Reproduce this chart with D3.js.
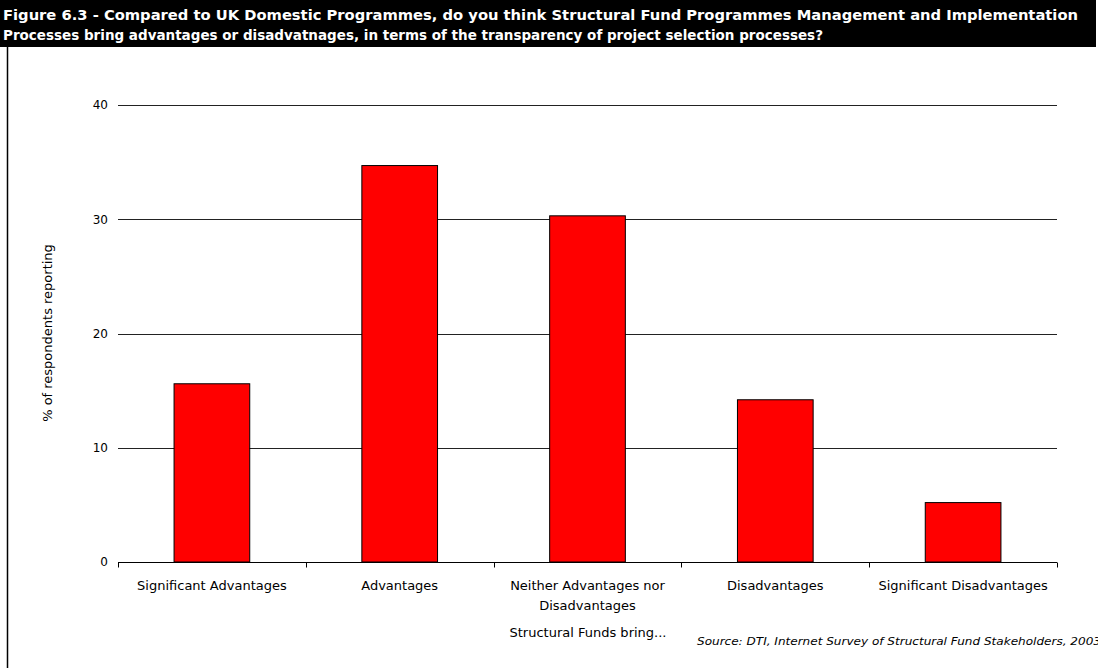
<!DOCTYPE html>
<html>
<head>
<meta charset="utf-8">
<script src="https://cdn.jsdelivr.net/npm/d3@7"></script>
<style>
  html, body { margin: 0; padding: 0; background: #fff; overflow: hidden; }
  svg { display: block; }
  text { font-family: "DejaVu Sans", Verdana, sans-serif; fill: #000; }
</style>
</head>
<body>
<svg id="chart" width="1098" height="668"></svg>
<script>
// Survey responses: how Structural Fund processes compare on transparency of project selection
const categories = [
  ["Significant Advantages"],
  ["Advantages"],
  ["Neither Advantages nor", "Disadvantages"],
  ["Disadvantages"],
  ["Significant Disadvantages"]
];
const percentages = [15.6, 34.7, 30.3, 14.2, 5.2];
const yTicks = [0, 10, 20, 30, 40];

const titleLines = [
  "Figure 6.3 - Compared to UK Domestic Programmes, do you think Structural Fund Programmes Management and Implementation",
  "Processes bring advantages or disadvatnages, in terms of the transparency of project selection processes?"
];
const yTitle = "% of respondents reporting";
const xTitle = "Structural Funds bring...";
const sourceNote = "Source: DTI, Internet Survey of Structural Fund Stakeholders, 2003";

const svg = d3.select("#chart");

// Header band with the figure title
svg.append("rect").attr("x", 0).attr("y", 0).attr("width", 1096).attr("height", 47).attr("fill", "#000");
const titleWidths = [1075, 820];
titleLines.forEach((t, i) => {
  svg.append("text")
    .attr("x", 3).attr("y", 20 + i * 20)
    .attr("textLength", titleWidths[i]).attr("lengthAdjust", "spacingAndGlyphs")
    .style("font-family", "'DejaVu Sans Condensed', 'DejaVu Sans', sans-serif")
    .style("font-weight", "bold").style("font-size", "13.5px").style("fill", "#fff")
    .text(t);
});

// Left frame rule
svg.append("line").attr("x1", 7.5).attr("x2", 7.5).attr("y1", 47).attr("y2", 668)
  .attr("stroke", "#000").attr("stroke-width", 1.5);

const plot = { left: 118, right: 1057, top: 105, bottom: 562 };

const x = d3.scaleBand()
  .domain(d3.range(categories.length))
  .range([plot.left, plot.right])
  .padding(0);

const y = d3.scaleLinear().domain([0, 40]).range([plot.bottom, plot.top]);

// Horizontal gridlines
svg.append("g").selectAll("line").data(yTicks.filter(d => d > 0)).join("line")
  .attr("x1", plot.left).attr("x2", plot.right)
  .attr("y1", d => Math.round(y(d)) + 0.5).attr("y2", d => Math.round(y(d)) + 0.5)
  .attr("stroke", "#222").attr("stroke-width", 1);

// Y tick labels
const yAxis = d3.axisLeft(y).tickValues(yTicks).tickSize(0).tickPadding(10);
const gy = svg.append("g").attr("transform", `translate(${plot.left},0)`).call(yAxis);
gy.select(".domain").remove();
gy.selectAll("text").style("font-size", "12px").style("font-family", "'DejaVu Sans', sans-serif").attr("fill", "#000");

// Bars
const barW = x.bandwidth() * 0.403;
svg.append("g").selectAll("rect").data(percentages).join("rect")
  .attr("x", (d, i) => x(i) + (x.bandwidth() - barW) / 2)
  .attr("y", d => y(d))
  .attr("width", barW)
  .attr("height", d => y(0) - y(d))
  .attr("fill", "#ff0000")
  .attr("stroke", "#000").attr("stroke-width", 1);

// X axis with category boundary ticks
const gx = svg.append("g").attr("transform", `translate(0,${plot.bottom + 0.5})`);
gx.append("line").attr("x1", plot.left).attr("x2", plot.right).attr("stroke", "#000");
const bounds = d3.range(categories.length + 1).map(i => i < categories.length ? x(i) : x(categories.length - 1) + x.bandwidth());
gx.selectAll("line.tick").data(bounds).join("line").attr("class", "tick")
  .attr("x1", d => Math.round(d) + 0.5).attr("x2", d => Math.round(d) + 0.5)
  .attr("y1", 0).attr("y2", 5).attr("stroke", "#000");

// Category labels
const lab = svg.append("g").selectAll("text").data(categories).join("text")
  .attr("text-anchor", "middle")
  .style("font-size", "13px");
lab.each(function(lines, i) {
  const t = d3.select(this);
  lines.forEach((ln, j) => {
    t.append("tspan").attr("x", x(i) + x.bandwidth() / 2).attr("y", 590 + j * 20).text(ln);
  });
});

// Axis titles
svg.append("text").attr("x", (plot.left + plot.right) / 2 + 0.5).attr("y", 637)
  .attr("text-anchor", "middle").style("font-size", "13px").text(xTitle);
svg.append("text").attr("transform", "translate(52,333) rotate(-90)")
  .attr("text-anchor", "middle").style("font-size", "13px").text(yTitle);

// Source note
svg.append("text").attr("x", 697).attr("y", 645)
  .attr("textLength", 404).attr("lengthAdjust", "spacingAndGlyphs")
  .style("font-size", "11px").style("font-style", "italic").text(sourceNote);
</script>
</body>
</html>
